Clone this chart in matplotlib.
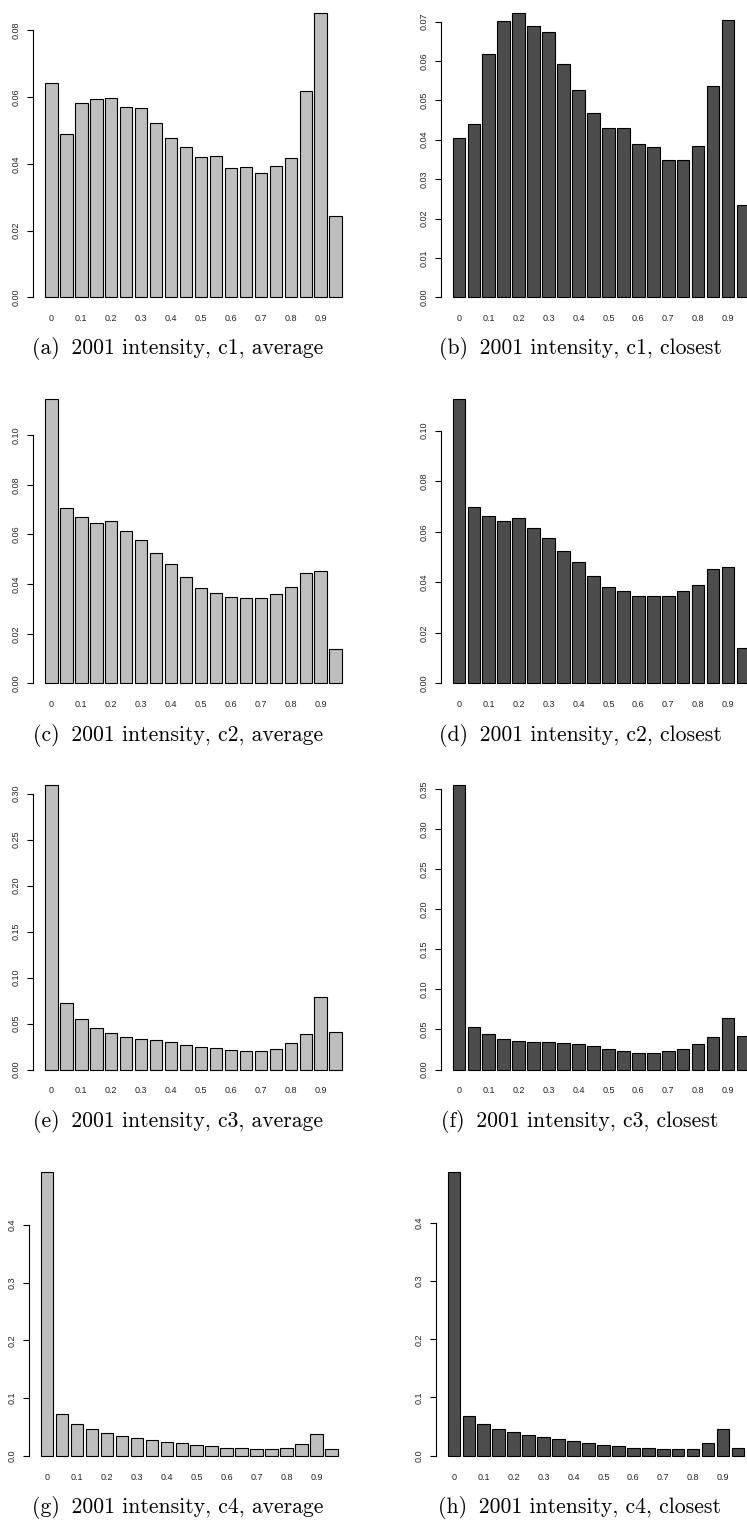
import numpy as np
import matplotlib
matplotlib.use("Agg")
import matplotlib.pyplot as plt

# ---------- datos (frecuencia relativa por bin de intensidad) ----------
bin_labels = ["0", "0.1", "0.2", "0.3", "0.4", "0.5", "0.6", "0.7", "0.8", "0.9"]

c1_average = [0.0643, 0.0489, 0.0582, 0.0594, 0.0596, 0.0570, 0.0566, 0.0521, 0.0477, 0.0449,
              0.0420, 0.0423, 0.0387, 0.0389, 0.0373, 0.0393, 0.0417, 0.0619, 0.0851, 0.0245]
c1_closest = [0.0405, 0.0439, 0.0617, 0.0701, 0.0721, 0.0688, 0.0673, 0.0593, 0.0526, 0.0467,
              0.0429, 0.0429, 0.0389, 0.0382, 0.0348, 0.0348, 0.0383, 0.0536, 0.0703, 0.0234]
c2_average = [0.1144, 0.0707, 0.0672, 0.0646, 0.0654, 0.0615, 0.0576, 0.0525, 0.0483, 0.0428,
              0.0385, 0.0366, 0.0348, 0.0346, 0.0345, 0.0362, 0.0387, 0.0446, 0.0451, 0.0140]
c2_closest = [0.1124, 0.0697, 0.0661, 0.0642, 0.0653, 0.0616, 0.0574, 0.0525, 0.0482, 0.0425,
              0.0380, 0.0364, 0.0346, 0.0346, 0.0344, 0.0364, 0.0389, 0.0454, 0.0459, 0.0142]
c3_average = [0.3090, 0.0722, 0.0555, 0.0457, 0.0395, 0.0355, 0.0337, 0.0316, 0.0301, 0.0272,
              0.0250, 0.0232, 0.0210, 0.0200, 0.0207, 0.0221, 0.0294, 0.0388, 0.0794, 0.0406]
c3_closest = [0.3545, 0.0528, 0.0449, 0.0378, 0.0353, 0.0341, 0.0349, 0.0333, 0.0316, 0.0291,
              0.0254, 0.0237, 0.0204, 0.0204, 0.0229, 0.0262, 0.0316, 0.0403, 0.0640, 0.0420]
c4_average = [0.4925, 0.0728, 0.0555, 0.0457, 0.0399, 0.0347, 0.0306, 0.0272, 0.0243, 0.0214,
              0.0185, 0.0162, 0.0139, 0.0127, 0.0116, 0.0121, 0.0133, 0.0202, 0.0382, 0.0121]
c4_closest = [0.4883, 0.0676, 0.0539, 0.0453, 0.0401, 0.0361, 0.0321, 0.0287, 0.0258, 0.0224,
              0.0183, 0.0166, 0.0138, 0.0126, 0.0115, 0.0115, 0.0120, 0.0212, 0.0464, 0.0132]

yticks_c1_avg = ["0.00", "0.02", "0.04", "0.06", "0.08"]
yticks_c1_clo = ["0.00", "0.01", "0.02", "0.03", "0.04", "0.05", "0.06", "0.07"]
yticks_c2 = ["0.00", "0.02", "0.04", "0.06", "0.08", "0.10"]
yticks_c3_avg = ["0.00", "0.05", "0.10", "0.15", "0.20", "0.25", "0.30"]
yticks_c3_clo = ["0.00", "0.05", "0.10", "0.15", "0.20", "0.25", "0.30", "0.35"]
yticks_c4 = ["0.0", "0.1", "0.2", "0.3", "0.4"]

captions = ["(a)\u2009 2001 intensity, c1, average", "(b)\u2009 2001 intensity, c1, closest",
            "(c)\u2009 2001 intensity, c2, average", "(d)\u2009 2001 intensity, c2, closest",
            "(e)\u2009 2001 intensity, c3, average", "(f)\u2009 2001 intensity, c3, closest",
            "(g)\u2009 2001 intensity, c4, average", "(h)\u2009 2001 intensity, c4, closest"]

panels = [
    (c1_average, yticks_c1_avg), (c1_closest, yticks_c1_clo),
    (c2_average, yticks_c2), (c2_closest, yticks_c2),
    (c3_average, yticks_c3_avg), (c3_closest, yticks_c3_clo),
    (c4_average, yticks_c4), (c4_closest, yticks_c4),
]

# ---------- layout (pixeles) ----------
W, H = 747, 1521
AXIS_X = [(33.3, 440.7), (33.3, 440.7), (33.3, 440.7), (29.0, 435.7)]
CAP_X = (178, 580)
colores = ("#BEBEBE", "#4D4D4D")

fig = plt.figure(figsize=(W / 100, H / 100), dpi=100)
pos = 0.7 + 1.2 * np.arange(20)   # como barplot() de R (space=0.2)

for k, ((vals, yt), cap) in enumerate(zip(panels, captions)):
    r, c = divmod(k, 2)
    base = 297.3 + 386.1 * r
    top, bottom = base - 295.4, base + 11.4
    left = AXIS_X[r][c]
    ax = fig.add_axes([left / W, 1 - bottom / H, 320.5 / W, (bottom - top) / H])

    M = max(vals)
    ax.bar(pos, vals, width=1.0, color=colores[c], edgecolor="black", linewidth=0.8)
    ax.set_xlim(-0.752, 24.952)
    ax.set_ylim(-0.04 * M, 1.04 * M)

    ax.set_xticks(pos[::2], bin_labels)
    ticks = [float(t) for t in yt]
    ax.set_yticks(ticks, yt)
    ax.tick_params(axis="x", length=0, pad=4.0, labelsize=6.5, labelcolor="#222222")
    ax.tick_params(axis="y", length=4.3, width=0.8, pad=4.6, labelsize=6.5,
                   labelcolor="#222222", labelrotation=90)
    for lab in ax.get_yticklabels():
        lab.set_va("center")
    for lab in ax.get_xticklabels() + ax.get_yticklabels():
        lab.set_family("Liberation Sans")

    for s in ("top", "right", "bottom"):
        ax.spines[s].set_visible(False)
    ax.spines["left"].set_bounds(ticks[0], ticks[-1])
    ax.spines["left"].set_linewidth(0.8)
    ax.patch.set_visible(False)

    fig.text(CAP_X[c] / W, 1 - (349 + 386.1 * r) / H, cap, family=["cmr10", "DejaVu Serif"],
             fontsize=15.6, ha="center", va="center")

fig.savefig("out.png", dpi=100)
